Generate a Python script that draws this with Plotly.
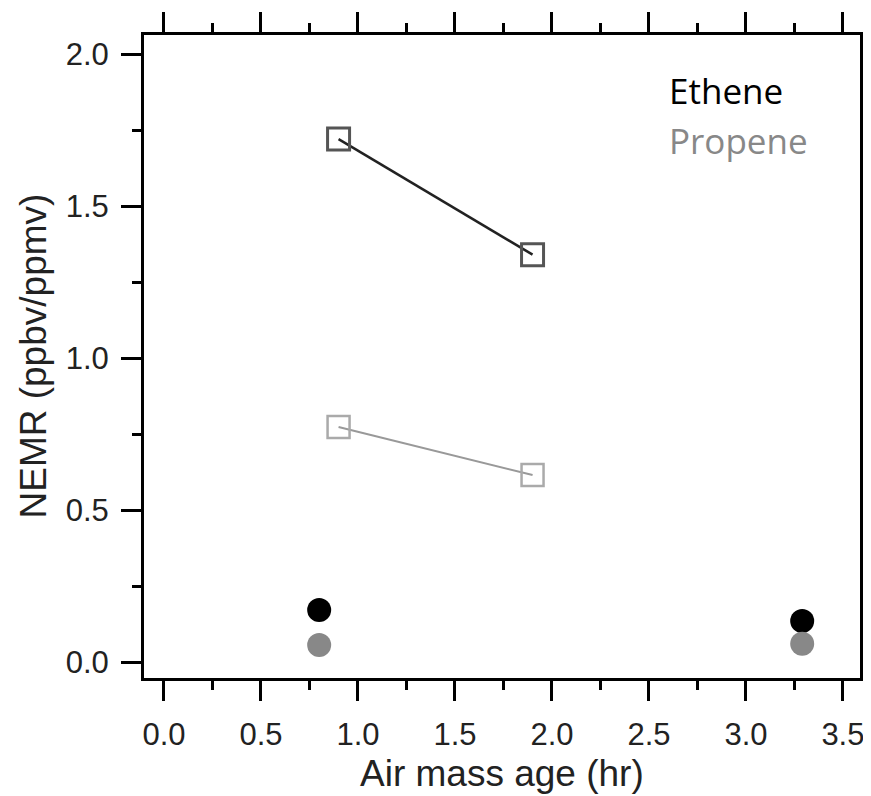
import plotly.graph_objects as go

# Data
square_age = [0.9, 1.9]
ethene_square = [1.72, 1.34]
propene_square = [0.773, 0.615]
circle_age = [0.8, 3.29]
ethene_circle = [0.171, 0.135]
propene_circle = [0.056, 0.06]
xticks = [0.0, 0.5, 1.0, 1.5, 2.0, 2.5, 3.0, 3.5]
yticks = [0.0, 0.5, 1.0, 1.5, 2.0]

# page body has an 8px margin; compensate
OFF = 8
W, H = 871 - OFF, 796 - OFF
L, R, T, B = 144 - OFF, 860 - OFF, 35 - OFF, 678 - OFF
XR = [-0.103, 3.588]
YR = [-0.0526, 2.0625]

fig = go.Figure()
fig.add_trace(go.Scatter(x=square_age, y=ethene_square, mode="lines+markers",
                         line=dict(color="#222222", width=2.5),
                         marker=dict(symbol="square-open", size=22, color="#555555",
                                     line=dict(color="#555555", width=3)),
                         showlegend=False))
fig.add_trace(go.Scatter(x=square_age, y=propene_square, mode="lines+markers",
                         line=dict(color="#999999", width=2),
                         marker=dict(symbol="square-open", size=22, color="#aaaaaa",
                                     line=dict(color="#aaaaaa", width=2.5)),
                         showlegend=False))
fig.add_trace(go.Scatter(x=circle_age, y=ethene_circle, mode="markers",
                         marker=dict(symbol="circle", size=24, color="#000000",
                                     line=dict(width=0)),
                         showlegend=False))
fig.add_trace(go.Scatter(x=circle_age, y=propene_circle, mode="markers",
                         marker=dict(symbol="circle", size=24, color="#888888",
                                     line=dict(width=0)),
                         showlegend=False))

tickfont = dict(family="Liberation Sans, Arial", size=31, color="#222222")
common_x = dict(range=XR, tickvals=xticks, ticks="outside", ticklen=20, tickwidth=3,
                tickcolor="black", showline=True, linewidth=3, linecolor="black",
                showgrid=False, zeroline=False,
                minor=dict(dtick=0.25, tick0=0, ticks="outside", ticklen=9,
                           tickwidth=2.5, tickcolor="black", showgrid=False))
common_y = dict(range=YR, tickvals=yticks, ticks="outside", ticklen=20, tickwidth=3,
                tickcolor="black", showline=True, linewidth=3, linecolor="black",
                showgrid=False, zeroline=False,
                minor=dict(dtick=0.25, tick0=0, ticks="outside", ticklen=9,
                           tickwidth=2.5, tickcolor="black", showgrid=False))

fig.update_layout(
    width=W, height=H,
    margin=dict(l=L, r=W - R, t=T, b=H - B, autoexpand=False),
    paper_bgcolor="white", plot_bgcolor="white",
    xaxis=dict(**common_x, tickfont=tickfont, ticktext=[f"{v:.1f}" for v in xticks],
               ticklabelstandoff=7),
    yaxis=dict(**common_y, tickfont=tickfont, ticktext=[f"{v:.1f}" for v in yticks],
               ticklabelstandoff=6),
    xaxis2=dict(**common_x, overlaying="x", side="top", showticklabels=False),
    yaxis2=dict(**common_y, overlaying="y", side="right", showticklabels=False),
)
# attach an invisible trace to the mirror axes so they render
fig.add_trace(go.Scatter(x=[None], y=[None], xaxis="x2", yaxis="y2", showlegend=False,
                         hoverinfo="skip"))

pw, ph = R - L, B - T
title_font = dict(family="Liberation Sans, Arial", size=37, color="#222222")
fig.add_annotation(text="Air mass age (hr)", xref="paper", yref="paper",
                   x=0.5, y=-(773 - 678) / ph, xanchor="center", yanchor="middle",
                   showarrow=False, font=title_font)
fig.add_annotation(text="NEMR (ppbv/ppmv)", xref="paper", yref="paper",
                   x=(33 - 144) / pw, y=0.5, xanchor="center", yanchor="middle",
                   textangle=-90, showarrow=False, font=title_font)

legend_font = "Open Sans, Lato, sans-serif"
fig.add_annotation(text="Ethene", xref="paper", yref="paper",
                   x=(667 - 144) / pw, y=(678 - 90.5) / ph, xanchor="left", yanchor="middle",
                   showarrow=False, font=dict(family=legend_font, size=35, color="#000000"))
fig.add_annotation(text="Propene", xref="paper", yref="paper",
                   x=(667 - 144) / pw, y=(678 - 140.5) / ph, xanchor="left", yanchor="middle",
                   showarrow=False, font=dict(family=legend_font, size=35, color="#888888"))

fig.write_html("out.html")
